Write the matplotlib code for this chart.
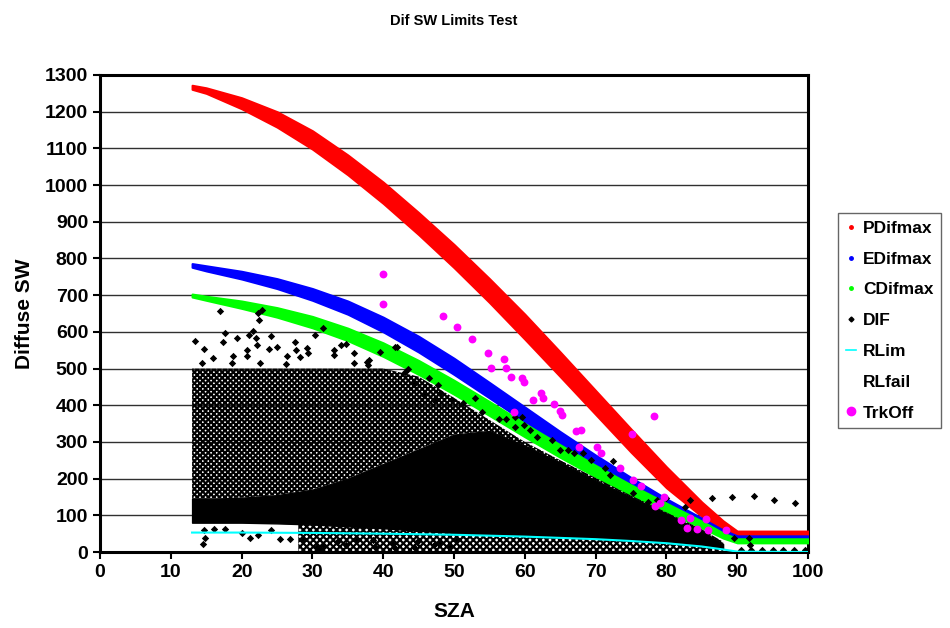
import matplotlib
matplotlib.use('Agg')
import matplotlib.pyplot as plt
from matplotlib.lines import Line2D

plt.rcParams['font.family'] = ['Liberation Sans', 'DejaVu Sans']
plt.rcParams['font.weight'] = 'bold'
plt.rcParams['hatch.linewidth'] = 1.6

# limit bands (upper / lower edge of each band)
sza_grid = [13, 15, 20, 25, 30, 35, 40, 45, 50, 55, 60, 65, 70, 75, 80, 85, 88, 90, 92, 100]
pdif_hi = [1272, 1265, 1238, 1200, 1148, 1082, 1008, 925, 838, 745, 648, 545, 440, 335, 232, 136, 85, 57, 57, 57]
pdif_lo = [1261, 1250, 1208, 1158, 1098, 1028, 950, 865, 775, 680, 580, 478, 375, 272, 175, 97, 60, 47, 47, 47]
edif_hi = [786, 780, 765, 745, 718, 684, 640, 588, 528, 462, 395, 328, 264, 203, 145, 92, 60, 44, 44, 44]
edif_lo = [776, 766, 744, 718, 686, 648, 600, 545, 484, 420, 355, 292, 232, 175, 122, 72, 46, 36, 36, 36]
cdif_hi = [703, 697, 684, 666, 642, 610, 570, 522, 468, 410, 350, 292, 236, 183, 133, 84, 52, 36, 36, 36]
cdif_lo = [695, 686, 664, 640, 611, 576, 533, 484, 430, 372, 314, 258, 205, 156, 110, 66, 38, 25, 25, 25]

rlim_sza = [13, 20, 30, 40, 50, 60, 70, 75, 80, 85, 88, 90, 100]
rlim_val = [53, 53, 52, 50, 47, 42, 35, 30, 24, 15, 7, 1, 0]

# DIF cloud: solid core and speckled zones
cloud_sza = [13, 15, 20, 25, 30, 35, 40, 45, 50, 55, 60, 65, 70, 75, 80, 85, 88]
core_lo = [80, 80, 80, 78, 75, 70, 65, 58, 52, 48, 44, 40, 36, 31, 25, 16, 8]
core_hi = [145, 145, 148, 155, 170, 200, 240, 280, 320, 330, 290, 244, 195, 150, 105, 57, 22]
speck_hi = [500, 500, 500, 500, 500, 500, 500, 478, 420, 360, 300, 250, 202, 154, 108, 62, 28]
low_sza = [28, 35, 40, 45, 50, 55, 60, 65, 70, 75, 80, 85, 88]
low_hi = [75, 70, 65, 58, 52, 48, 44, 40, 36, 31, 25, 16, 8]

# DIF single points outside the dense cloud
dif_sza = [16.9, 22.3, 22.9, 22.5, 31.5, 39.5, 43.5, 46.4, 41.9, 13.4, 17.7, 17.4, 21.6, 21.1,
           19.3, 24.2, 22.0, 22.2, 20.7, 20.8, 23.9, 25.0, 27.5, 27.7, 28.2, 29.2, 29.4, 30.3,
           26.4, 26.2, 33.0, 33.0, 35.8, 35.9, 38.0, 37.8, 22.6, 18.8, 18.6, 16.0, 14.4, 34.8,
           14.7, 34.1, 37.7, 41.7, 47.8,
           43.1, 44.5, 45.7, 47.1, 48.0, 49.7, 51.3, 53.0, 53.9, 56.3, 57.3, 58.6, 59.6, 58.6,
           59.9, 60.7, 61.7, 63.8, 65.0, 66.1, 66.9, 68.2, 69.4, 72.5, 71.3, 72.0, 75.3, 77.4,
           78.6, 80.0, 82.6, 83.3,
           86.4, 89.2, 92.3, 95.2, 98.2, 89.5, 91.6, 91.8, 90.5, 92.0, 93.5, 95.0, 96.5, 98.0, 99.5,
           14.7, 16.1, 17.7, 14.8, 14.6, 20.0, 21.2, 22.3, 25.4, 26.8, 28.5, 24.2, 30.6, 31.5,
           29.7, 31.1, 33.4, 34.8, 36.3, 38.8, 38.6, 41.2, 41.7, 44.3, 44.7, 47.1, 48.0, 49.4, 50.4]
dif_val = [657, 651, 660, 632, 610, 546, 498, 473, 560, 576, 596, 571, 602, 591,
           582, 589, 582, 564, 551, 534, 552, 558, 573, 550, 532, 555, 541, 591,
           534, 512, 550, 537, 541, 514, 523, 509, 514, 534, 514, 530, 516, 567,
           552, 564, 519, 560, 455,
           491, 460, 428, 414, 432, 414, 405, 419, 382, 362, 362, 367, 367, 342,
           346, 333, 314, 305, 278, 278, 269, 269, 251, 248, 228, 210, 160, 137,
           142, 146, 124, 143,
           148, 151, 153, 142, 134, 37, 37, 19, 6, 6, 6, 6, 6, 6, 6,
           60, 62, 62, 37, 21, 51, 37, 46, 35, 35, 35, 60, 14, 19,
           1, 5, 28, 19, 33, 14, 33, 24, 10, 14, 28, 19, 28, 14, 33]

# tracker-off points
trk_sza = [39.9, 40.0, 48.4, 50.4, 52.6, 54.8, 55.2, 57.1, 57.4, 58.1, 59.6, 59.9, 61.2, 62.3,
           62.6, 64.1, 65.0, 65.3, 58.4, 67.2, 68.0, 67.7, 70.2, 78.2, 75.1, 70.7, 73.4, 75.3,
           76.4, 79.7, 79.1, 78.4, 82.1, 83.3, 82.9, 84.3, 85.6, 85.9, 88.4]
trk_val = [758, 677, 643, 614, 580, 541, 501, 526, 501, 478, 475, 462, 414, 432,
           419, 403, 384, 373, 382, 331, 333, 287, 285, 371, 321, 269, 228, 196,
           181, 150, 134, 126, 87, 92, 66, 64, 90, 60, 60]

fig = plt.figure(figsize=(9.5, 6.28), dpi=100)
ax = fig.add_axes([0.1053, 0.121, 0.7453, 0.7596])

ax.fill_between(sza_grid, pdif_lo, pdif_hi, color='#FF0000', lw=1.5, zorder=3)
ax.fill_between(sza_grid, edif_lo, edif_hi, color='#0000FF', lw=1.5, zorder=3)
ax.fill_between(sza_grid, cdif_lo, cdif_hi, color='#00FF00', lw=1.5, zorder=3)

# DIF
ax.fill_between(cloud_sza, core_hi, speck_hi, facecolor='none', edgecolor='black',
                hatch='xxxxxx', lw=0, zorder=4)
ax.fill_between(low_sza, [0] * len(low_sza), low_hi, facecolor='none', edgecolor='black',
                hatch='xxxxx', lw=0, zorder=4)
ax.fill_between(cloud_sza, core_lo, core_hi, color='black', lw=1, zorder=4)
ax.scatter(dif_sza, dif_val, marker='D', s=14, color='black', lw=0, zorder=5)

ax.plot(rlim_sza, rlim_val, color='#00FFFF', lw=1.5, zorder=6)
ax.scatter(trk_sza, trk_val, marker='o', s=32, color='#FF00FF', lw=0, zorder=7)

ax.set_xlim(0, 100)
ax.set_ylim(0, 1300)
ax.set_xticks(range(0, 101, 10))
ax.set_yticks(range(0, 1301, 100))
ax.yaxis.grid(True, color='#303030', lw=1)
ax.set_axisbelow(True)
for s in ax.spines.values():
    s.set_linewidth(2.2)
ax.tick_params(labelsize=14, width=1.5, length=5, direction='out')

ax.set_xlabel('SZA', fontsize=15, fontweight='bold', labelpad=15)
ax.set_ylabel('Diffuse SW', fontsize=15, fontweight='bold', labelpad=8)
fig.suptitle('Dif SW Limits Test', fontsize=10.5, fontweight='bold', x=0.478, y=0.978)

handles = [
    Line2D([], [], ls='none', marker='o', ms=2.5, color='#FF0000'),
    Line2D([], [], ls='none', marker='o', ms=2.5, color='#0000FF'),
    Line2D([], [], ls='none', marker='o', ms=2.5, color='#00FF00'),
    Line2D([], [], ls='none', marker='D', ms=2.5, color='black'),
    Line2D([], [], ls='-', color='#00FFFF', lw=1.2),
    Line2D([], [], ls='none'),
    Line2D([], [], ls='none', marker='o', ms=6, color='#FF00FF'),
]
labels = ['PDifmax', 'EDifmax', 'CDifmax', 'DIF', 'RLim', 'RLfail', 'TrkOff']
leg = fig.legend(handles, labels, loc='upper left', bbox_to_anchor=(0.882, 0.661),
                 borderaxespad=0, fontsize=12.5, frameon=True, fancybox=False,
                 handlelength=0.6, handletextpad=0.4, labelspacing=0.9, borderpad=0.45)
leg.get_frame().set_edgecolor('#404040')
leg.get_frame().set_linewidth(1)

fig.savefig('out.png', dpi=100)
